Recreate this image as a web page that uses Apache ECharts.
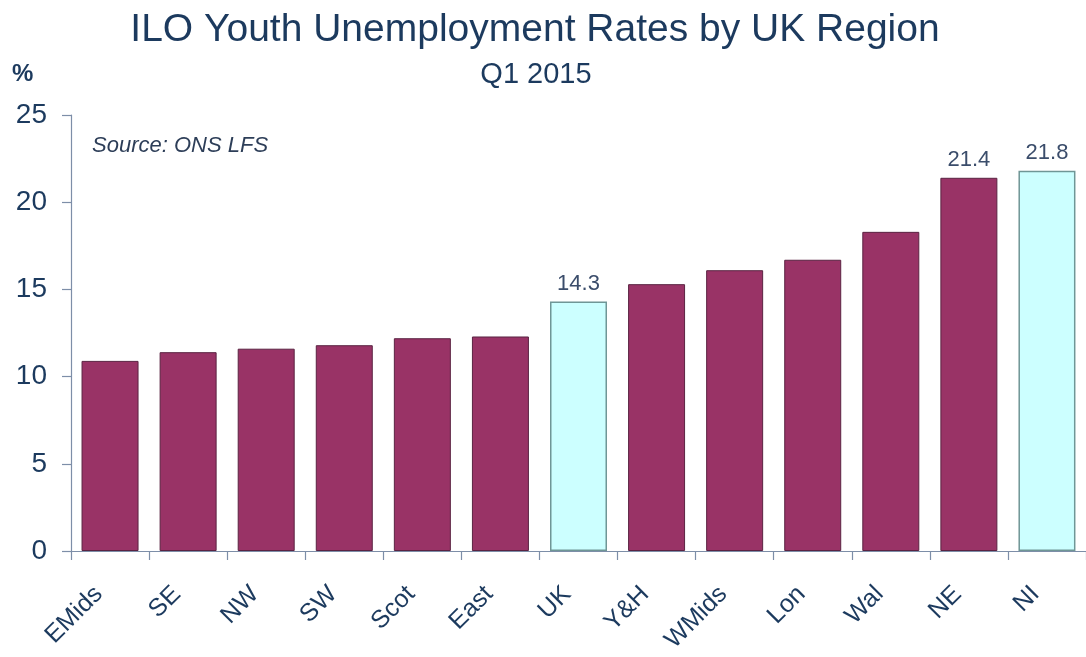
<!DOCTYPE html>
<html>
<head>
<meta charset="utf-8">
<title>ILO Youth Unemployment Rates by UK Region</title>
<script src="https://cdn.jsdelivr.net/npm/echarts@6/dist/echarts.min.js"></script>
<style>
  html, body { margin: 0; padding: 0; background: #ffffff; }
  #chart { width: 1086px; height: 657px; }
</style>
</head>
<body>
<div id="chart"></div>
<script>
// Youth (16-24) ILO unemployment rate, Q1 2015, by region (%)
const regions = ['EMids', 'SE', 'NW', 'SW', 'Scot', 'East', 'UK', 'Y&H', 'WMids', 'Lon', 'Wal', 'NE', 'NI'];
const rates = [10.9, 11.4, 11.6, 11.8, 12.2, 12.3, 14.3, 15.3, 16.1, 16.7, 18.3, 21.4, 21.8];
// Bars that are highlighted and carry a value label
const highlighted = ['UK', 'NI'];
const labelled = ['UK', 'NE', 'NI'];
const yTicks = [0, 5, 10, 15, 20, 25];

const textColor = '#1c3a5e';
const axisColor = '#7d8ea8';
const font = 'Liberation Sans, Arial, sans-serif';

const barData = regions.map((r, i) => {
  const hi = highlighted.includes(r);
  return {
    value: rates[i],
    itemStyle: hi
      ? { color: '#ccffff', borderColor: '#6f9696', borderWidth: 1.5 }
      : { color: '#993366', borderColor: '#5a2342', borderWidth: 1 },
    label: { show: labelled.includes(r) }
  };
});

const chart = echarts.init(document.getElementById('chart'), null, { renderer: 'canvas' });
chart.setOption({
  backgroundColor: '#ffffff',
  animation: false,
  textStyle: { fontFamily: font },
  graphic: [
    { type: 'text', x: 535, y: 30, style: { text: 'ILO Youth Unemployment Rates by UK Region', font: '39px ' + font, fill: textColor, align: 'center', verticalAlign: 'middle' } },
    { type: 'text', x: 536, y: 75, style: { text: 'Q1 2015', font: '29px ' + font, fill: textColor, align: 'center', verticalAlign: 'middle' } },
    { type: 'text', x: 12, y: 74, style: { text: '%', font: 'bold 24px ' + font, fill: textColor, align: 'left', verticalAlign: 'middle' } },
    { type: 'text', x: 92, y: 146, style: { text: 'Source: ONS LFS', font: 'italic 22px ' + font, fill: '#2d3e58', align: 'left', verticalAlign: 'middle' } }
  ],
  grid: { left: 71, right: 0, top: 115, bottom: 106, containLabel: false },
  xAxis: {
    type: 'category',
    data: regions,
    axisLine: { lineStyle: { color: axisColor, width: 1.2 } },
    axisTick: { show: true, length: 9, lineStyle: { color: axisColor, width: 1.2 } },
    axisLabel: { rotate: 45, margin: 28, padding: [0, 16, 0, 0], fontSize: 25, color: textColor, fontFamily: font, interval: 0 }
  },
  yAxis: {
    type: 'value',
    min: yTicks[0],
    max: yTicks[yTicks.length - 1],
    interval: 5,
    splitLine: { show: false },
    axisLine: { show: true, lineStyle: { color: axisColor, width: 1.2 } },
    axisTick: { show: true, length: 9, lineStyle: { color: axisColor, width: 1.2 } },
    axisLabel: { margin: 24, fontSize: 28, color: textColor, fontFamily: font }
  },
  series: [{
    type: 'bar',
    data: barData,
    barCategoryGap: '27%',
    label: { position: 'top', distance: 7, fontSize: 22, color: '#3b4d6b', fontFamily: font, formatter: p => p.value.toFixed(1) }
  }]
});
</script>
</body>
</html>
